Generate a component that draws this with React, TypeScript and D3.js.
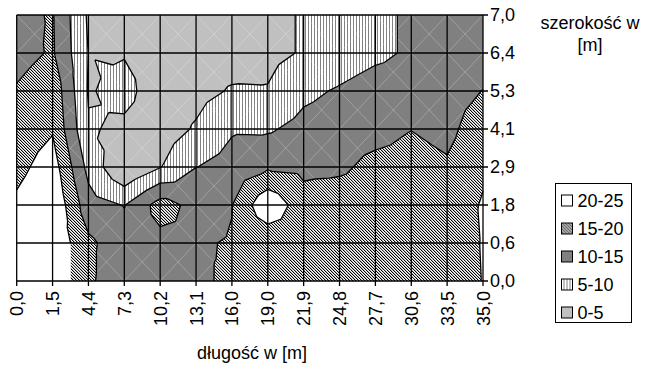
import React from 'react';
import * as d3 from 'd3';

// długość (x) i szerokość (y) – etykiety osi
const xLabels = ['0,0', '1,5', '4,4', '7,3', '10,2', '13,1', '16,0', '19,0', '21,9', '24,8', '27,7', '30,6', '33,5', '35,0'];
const yLabels = ['7,0', '6,4', '5,3', '4,1', '2,9', '1,8', '0,6', '0,0'];

// wartości w węzłach siatki, wiersz po wierszu od góry
const row70 = [13.7, 15.4, 4.3, 3, 3, 3, 3, 3.7, 5.4, 7.2, 8.9, 10.7, 12, 13];
const row64 = [13, 15.6, 4.9, 4.7, 3, 3, 3, 3.7, 5.4, 7.2, 8.9, 10.7, 12, 13];
const row53 = [15.5, 18.5, 4.6, 6.5, 2.2, 3.5, 5.4, 5.3, 8.9, 10.5, 12.3, 12.5, 13, 15.1];
const row41 = [17, 19.5, 5.5, 4.0, 2.6, 5.5, 9.5, 9.4, 11.5, 12.5, 13, 14.9, 13.5, 18.2];
const row29 = [18.5, 22.5, 8.5, 0, 4.8, 9.9, 11.9, 14.3, 13.8, 14.0, 16.6, 17, 15.7, 19.3];
const row18 = [21, 24.5, 12, 9.8, 17, 13.5, 14.9, 24, 17, 18, 18, 18, 17.3, 20.4];
const row06 = [22, 24, 16, 12, 13.5, 14.7, 15.2, 16, 17.5, 18, 18, 18, 18, 20.2];
const row00 = [24, 24, 16, 11, 12, 13, 17, 17.5, 17.5, 17.5, 17.5, 17.5, 18, 20.1];
const grid = [row70, row64, row53, row41, row29, row18, row06, row00];

const bandLabels = ['0-5', '5-10', '10-15', '15-20', '20-25'];
const thresholds = [5, 10, 15, 20];

type P = [number, number, number];

const clip = (poly: P[], t: number, above: boolean): P[] => {
    const out: P[] = [];
    for (let k = 0; k < poly.length; k++) {
        const p = poly[k];
        const q = poly[(k + 1) % poly.length];
        const pin = above ? p[2] >= t : p[2] < t;
        const qin = above ? q[2] >= t : q[2] < t;
        if (pin) out.push(p);
        if (pin !== qin) {
            const f = (t - p[2]) / (q[2] - p[2]);
            out.push([p[0] + f * (q[0] - p[0]), p[1] + f * (q[1] - p[1]), t]);
        }
    }
    return out;
};

const App: React.FC = () => {
    const width = 648;
    const height = 365;
    const font = 'Liberation Sans, Arial, sans-serif';

    const x = d3.scalePoint<string>().domain(xLabels).range([16.7, 483]);
    const y = d3.scalePoint<string>().domain(yLabels).range([15, 281]);
    const left = x(xLabels[0])!;
    const right = x(xLabels[xLabels.length - 1])!;
    const top = y(yLabels[0])!;
    const bottom = y(yLabels[yLabels.length - 1])!;

    // każda komórka dzielona na 4 trójkąty (jak w wykresie powierzchniowym Excela)
    const tris: P[][] = [];
    for (let j = 0; j < yLabels.length - 1; j++) {
        for (let i = 0; i < xLabels.length - 1; i++) {
            const a: P = [x(xLabels[i])!, y(yLabels[j])!, grid[j][i]];
            const b: P = [x(xLabels[i + 1])!, y(yLabels[j])!, grid[j][i + 1]];
            const c: P = [x(xLabels[i + 1])!, y(yLabels[j + 1])!, grid[j + 1][i + 1]];
            const d: P = [x(xLabels[i])!, y(yLabels[j + 1])!, grid[j + 1][i]];
            const m: P = [(a[0] + b[0]) / 2, (a[1] + d[1]) / 2, (a[2] + b[2] + c[2] + d[2]) / 4];
            tris.push([a, b, m], [b, c, m], [c, d, m], [d, a, m]);
        }
    }

    const bandPaths = bandLabels.map((_, k) => {
        const lo = k === 0 ? -Infinity : thresholds[k - 1];
        const hi = k === bandLabels.length - 1 ? Infinity : thresholds[k];
        let s = '';
        tris.forEach(tri => {
            let poly = tri;
            if (isFinite(lo)) poly = clip(poly, lo, true);
            if (poly.length && isFinite(hi)) poly = clip(poly, hi, false);
            if (poly.length >= 3) s += 'M' + poly.map(p => `${p[0].toFixed(2)},${p[1].toFixed(2)}`).join('L') + 'Z';
        });
        return s;
    });

    let contourPath = '';
    tris.forEach(tri => {
        thresholds.forEach(t => {
            const pts: number[][] = [];
            for (let k = 0; k < 3; k++) {
                const p = tri[k];
                const q = tri[(k + 1) % 3];
                if ((p[2] - t) * (q[2] - t) < 0) {
                    const f = (t - p[2]) / (q[2] - p[2]);
                    pts.push([p[0] + f * (q[0] - p[0]), p[1] + f * (q[1] - p[1])]);
                }
            }
            if (pts.length === 2) contourPath += `M${pts[0][0].toFixed(2)},${pts[0][1].toFixed(2)}L${pts[1][0].toFixed(2)},${pts[1][1].toFixed(2)}`;
        });
    });

    let diagPath = '';
    for (let j = 0; j < yLabels.length - 1; j++) {
        for (let i = 0; i < xLabels.length - 1; i++) {
            const x0 = x(xLabels[i])!, x1 = x(xLabels[i + 1])!;
            const y0 = y(yLabels[j])!, y1 = y(yLabels[j + 1])!;
            diagPath += `M${x0},${y0}L${x1},${y1}M${x1},${y0}L${x0},${y1}`;
        }
    }

    const fills = ['#c0c0c0', 'url(#pStripe)', '#808080', 'url(#pHatch)', '#ffffff'];
    const legendItems = bandLabels.map((label, k) => ({ label, fill: fills[k] })).reverse();
    const legendY = d3.scalePoint<string>().domain(legendItems.map(d => d.label)).range([200.5, 312.5]);

    // piksele wzoru ukośnego 3x3: czarny + jasnoszary w każdym wierszu
    const hatchPx: { x: number; y: number; c: string }[] = [];
    for (let r = 0; r < 3; r++) {
        hatchPx.push({ x: r, y: r, c: '#000' }, { x: (r + 1) % 3, y: r, c: '#b4b4b4' });
    }

    return (
        <svg width={width} height={height} style={{ position: 'absolute', left: 0, top: 0, background: '#fff' }}
            fontFamily={font}>
            <defs>
                <pattern id="pHatch" patternUnits="userSpaceOnUse" width="3" height="3">
                    <rect width="3" height="3" fill="#fff" />
                    {hatchPx.map((p, k) => (
                        <rect key={k} x={p.x} y={p.y} width="1" height="1" fill={p.c} shapeRendering="crispEdges" />
                    ))}
                </pattern>
                <pattern id="pStripe" patternUnits="userSpaceOnUse" width="3" height="3">
                    <rect width="3" height="3" fill="#fff" />
                    <rect x="2" width="1" height="3" fill="#808080" shapeRendering="crispEdges" />
                </pattern>
            </defs>

            {bandPaths.map((d, k) => <path key={k} d={d} fill={fills[k]} stroke="none" />)}
            <path d={diagPath} stroke="#fff" strokeOpacity={0.35} strokeWidth={0.7} fill="none" />
            <path d={contourPath} stroke="#000" strokeWidth={1.3} fill="none" strokeLinejoin="round" />

            {/* siatka */}
            {xLabels.map(l => (
                <line key={'gx' + l} x1={x(l)} x2={x(l)} y1={top} y2={bottom + 5} stroke="#000" strokeWidth={1.3} />
            ))}
            {yLabels.map(l => (
                <line key={'gy' + l} x1={left} x2={right + 5} y1={y(l)} y2={y(l)} stroke="#000" strokeWidth={1.3} />
            ))}

            {/* oś Y po prawej */}
            {yLabels.map(l => (
                <text key={'ty' + l} x={right + 7} y={y(l)} dy="0.35em" fontSize={18} fill="#000">{l}</text>
            ))}
            {/* oś X */}
            {xLabels.map(l => (
                <text key={'tx' + l} transform={`translate(${x(l)! + 6.5},${bottom + 10}) rotate(-90)`}
                    textAnchor="end" fontSize={18} fill="#000">{l}</text>
            ))}

            <text x={252} y={359} textAnchor="middle" fontSize={18} fill="#000">długość w [m]</text>
            <text x={590} y={29} textAnchor="middle" fontSize={18} fill="#000">szerokość w</text>
            <text x={590} y={51} textAnchor="middle" fontSize={18} fill="#000">[m]</text>

            {/* legenda */}
            <rect x={555.5} y={183.5} width={76} height={139} fill="#fff" stroke="#000" strokeWidth={1} />
            {legendItems.map(d => (
                <g key={d.label} transform={`translate(561.5,${legendY(d.label)})`}>
                    <rect x={0} y={-5.5} width={11} height={11} fill={d.fill} stroke="#000" strokeWidth={1} />
                    <text x={16} y={0} dy="0.35em" fontSize={18} fill="#000">{d.label}</text>
                </g>
            ))}
        </svg>
    );
};

export default App;
